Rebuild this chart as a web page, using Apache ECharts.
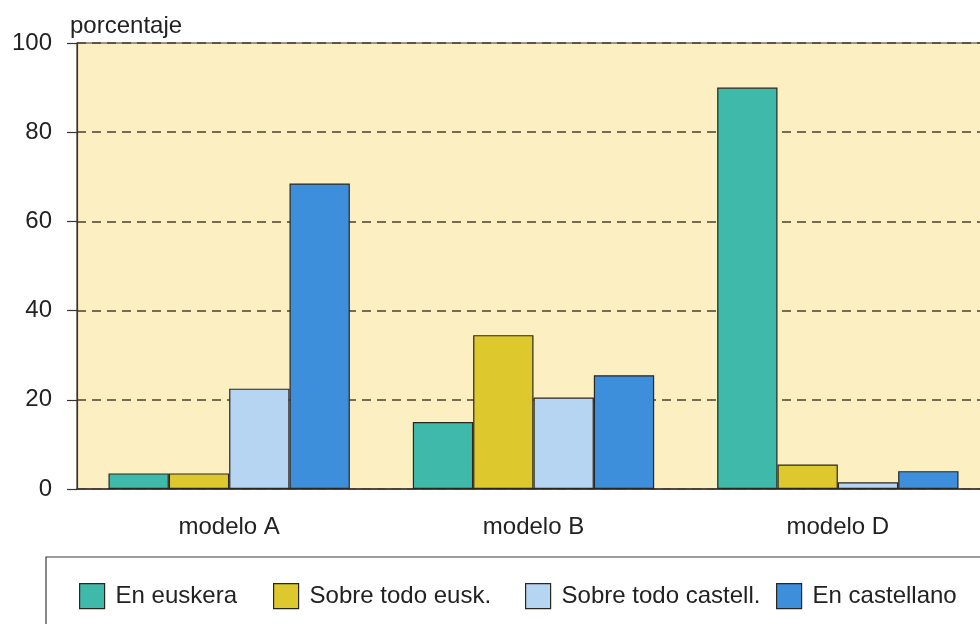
<!DOCTYPE html>
<html>
<head>
<meta charset="utf-8">
<script src="https://cdn.jsdelivr.net/npm/echarts@6/dist/echarts.min.js"></script>
<style>
  html, body { margin: 0; padding: 0; background: #fff; }
  #chart { width: 980px; height: 624px; }
</style>
</head>
<body>
<div id="chart"></div>
<script>
// datos
var modelos = ['modelo A', 'modelo B', 'modelo D'];
var enEuskera = [3.5, 15, 90];
var sobreTodoEusk = [3.5, 34.5, 5.5];
var sobreTodoCastell = [22.5, 20.5, 1.5];
var enCastellano = [68.5, 25.5, 4];
var nombres = ['En euskera', 'Sobre todo eusk.', 'Sobre todo castell.', 'En castellano'];
var colores = ['#3fb9a9', '#ddc92e', '#b6d5f2', '#3d8fdc'];
var leyendaX = [79, 273, 525, 776];

var chart = echarts.init(document.getElementById('chart'));
var fuente = 'Liberation Sans, Arial, sans-serif';

function serie(i, datos) {
  return {
    name: nombres[i],
    type: 'bar',
    data: datos,
    barGap: '0%',
    barCategoryGap: '20.7%',
    itemStyle: { color: colores[i], borderColor: '#2b2620', borderWidth: 1.2 }
  };
}

// una leyenda por elemento, como en el original (espacios irregulares)
var leyendas = nombres.map(function (n, i) {
  return {
    left: leyendaX[i],
    top: 583,
    padding: 0,
    itemWidth: 25,
    itemHeight: 25,
    icon: 'rect',
    data: [n],
    textStyle: { fontFamily: fuente, fontSize: 24, color: '#222', padding: [0, 0, 0, 6] },
    itemStyle: { borderColor: '#2b2620', borderWidth: 1.2 }
  };
});

var option = {
  animation: false,
  backgroundColor: '#ffffff',
  grid: {
    left: 77,
    top: 43,
    width: 913,
    bottom: 135,
    outerBoundsMode: 'none',
    containLabel: false,
    show: true,
    backgroundColor: '#fcefc2',
    borderColor: '#3a332b',
    borderWidth: 1.2
  },
  graphic: [{
    type: 'rect',
    shape: { x: 46, y: 557, width: 1000, height: 120 },
    style: { fill: '#fff', stroke: '#3a3a3a', lineWidth: 1.2 },
    z: -1
  }],
  legend: leyendas,
  xAxis: {
    type: 'category',
    data: modelos,
    axisLine: { lineStyle: { color: '#3a332b', width: 1.5 } },
    axisTick: { show: false },
    axisLabel: { margin: 26, fontFamily: fuente, fontSize: 24, color: '#222' }
  },
  yAxis: {
    type: 'value',
    min: 0,
    max: 100,
    interval: 20,
    z: 2,
    name: 'porcentaje',
    nameLocation: 'end',
    nameGap: 5,
    nameTextStyle: { fontFamily: fuente, fontSize: 24, color: '#222', align: 'left', verticalAlign: 'bottom', padding: [0, 0, 0, -7] },
    axisLine: { show: true, lineStyle: { color: '#3a332b', width: 1.2 } },
    axisTick: { show: true, length: 10, lineStyle: { color: '#3a332b', width: 1.2 } },
    axisLabel: { margin: 25, fontFamily: fuente, fontSize: 24, color: '#222' },
    splitLine: { show: true, lineStyle: { color: '#4e3f2e', width: 1.5, type: [9, 6] } }
  },
  series: [
    serie(0, enEuskera),
    serie(1, sobreTodoEusk),
    serie(2, sobreTodoCastell),
    serie(3, enCastellano)
  ]
};

chart.setOption(option);
</script>
</body>
</html>
